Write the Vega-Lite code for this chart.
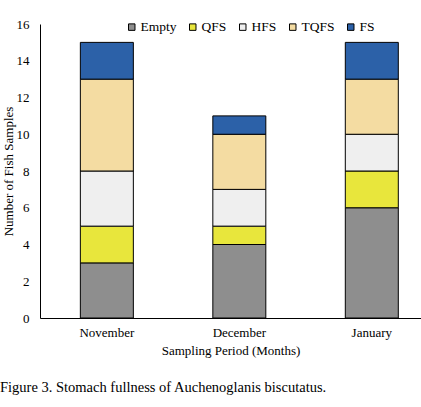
{
  "$schema": "https://vega.github.io/schema/vega-lite/v6.json",
  "width": 381,
  "height": 294,
  "autosize": {"type": "none"},
  "padding": {"left": 40, "top": 24, "right": 0, "bottom": 89},
  "background": "white",
  "config": {
    "view": {"stroke": null},
    "font": "Liberation Serif",
    "axis": {
      "domainColor": "black",
      "domainWidth": 1,
      "ticks": false,
      "grid": false,
      "labelFont": "Liberation Serif",
      "labelFontSize": 13,
      "labelColor": "black",
      "titleFont": "Liberation Serif",
      "titleFontSize": 13,
      "titleFontWeight": "normal",
      "titleColor": "black"
    },
    "legend": {"labelFont": "Liberation Serif"},
    "title": {"font": "Liberation Serif"}
  },
  "title": {
    "text": "Figure 3. Stomach fullness of Auchenoglanis biscutatus.",
    "orient": "bottom",
    "anchor": "start",
    "frame": "group",
    "dx": -40,
    "offset": 24,
    "font": "Liberation Serif",
    "fontSize": 14.5,
    "fontWeight": "normal",
    "color": "black"
  },
  "data": {
    "values": [
      {"month": "November", "stage": "Empty", "rank": 1, "count": 3},
      {"month": "November", "stage": "QFS", "rank": 2, "count": 2},
      {"month": "November", "stage": "HFS", "rank": 3, "count": 3},
      {"month": "November", "stage": "TQFS", "rank": 4, "count": 5},
      {"month": "November", "stage": "FS", "rank": 5, "count": 2},
      {"month": "December", "stage": "Empty", "rank": 1, "count": 4},
      {"month": "December", "stage": "QFS", "rank": 2, "count": 1},
      {"month": "December", "stage": "HFS", "rank": 3, "count": 2},
      {"month": "December", "stage": "TQFS", "rank": 4, "count": 3},
      {"month": "December", "stage": "FS", "rank": 5, "count": 1},
      {"month": "January", "stage": "Empty", "rank": 1, "count": 6},
      {"month": "January", "stage": "QFS", "rank": 2, "count": 2},
      {"month": "January", "stage": "HFS", "rank": 3, "count": 2},
      {"month": "January", "stage": "TQFS", "rank": 4, "count": 3},
      {"month": "January", "stage": "FS", "rank": 5, "count": 2}
    ]
  },
  "mark": {"type": "bar", "stroke": "black", "strokeWidth": 1},
  "encoding": {
    "x": {
      "field": "month",
      "type": "nominal",
      "sort": ["November", "December", "January"],
      "scale": {"paddingInner": 0.6, "paddingOuter": 0.238, "align": 0.64},
      "axis": {"labelAngle": 0, "labelPadding": 8, "titlePadding": 5, "title": "Sampling Period (Months)"}
    },
    "y": {
      "field": "count",
      "type": "quantitative",
      "stack": "zero",
      "scale": {"domain": [0, 16], "nice": false},
      "axis": {"values": [0, 2, 4, 6, 8, 10, 12, 14, 16], "labelPadding": 11, "titlePadding": 1, "title": "Number of Fish Samples"}
    },
    "order": {"field": "rank", "type": "quantitative"},
    "color": {
      "field": "stage",
      "type": "nominal",
      "scale": {
        "domain": ["Empty", "QFS", "HFS", "TQFS", "FS"],
        "range": ["#8e8e8e", "#e8e63c", "#efefef", "#f4dca2", "#2c61a8"]
      },
      "legend": {
        "title": null,
        "orient": "none",
        "direction": "horizontal",
        "legendX": 85,
        "legendY": -4,
        "symbolType": "square",
        "symbolSize": 42,
        "symbolStrokeColor": "black",
        "symbolStrokeWidth": 1,
        "symbolOpacity": 1,
        "labelFont": "Liberation Serif",
        "labelFontSize": 13.5,
        "labelColor": "black",
        "labelOffset": 2,
        "columnPadding": 9
      }
    }
  }
}
